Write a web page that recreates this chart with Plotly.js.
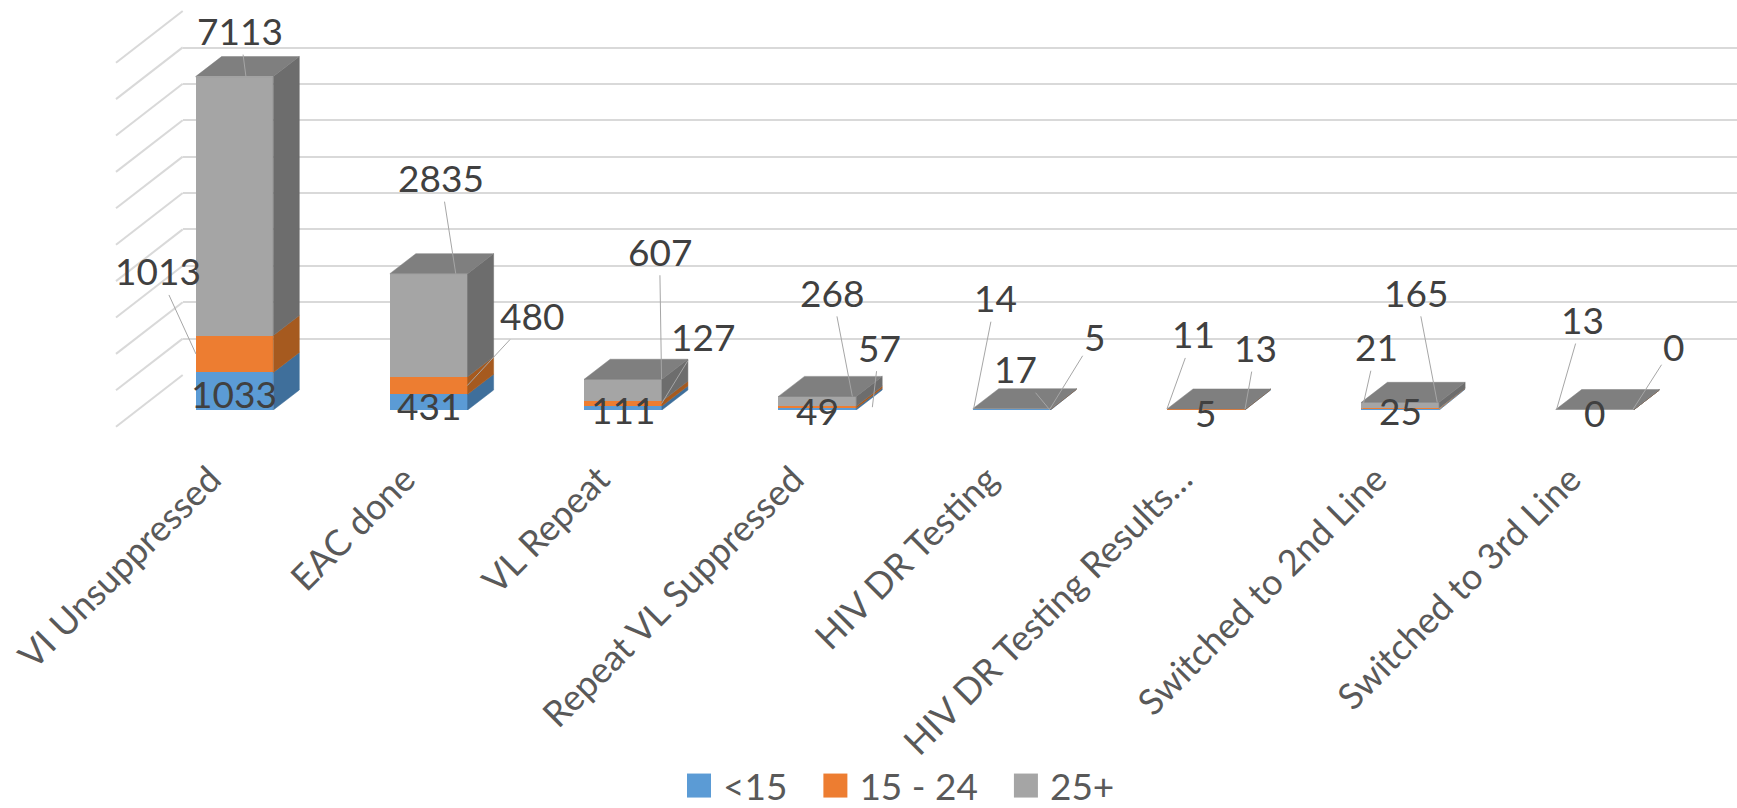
<!DOCTYPE html>
<html>
<head>
<meta charset="utf-8">
<script src="https://cdn.plot.ly/plotly-3.0.1.min.js"></script>
<style>html,body{margin:0;padding:0;background:#ffffff;}</style>
</head>
<body>
<div id="chart" style="width:1737px;height:808px;"></div>
<script>
// ---------------- data ----------------
const categories = ["VI Unsuppressed", "EAC done", "VL Repeat", "Repeat VL Suppressed",
                    "HIV DR Testing", "HIV DR Testing Results…", "Switched to 2nd Line", "Switched to 3rd Line"];
const seriesNames = ["<15", "15 - 24", "25+"];
const under15   = [1033, 431, 111, 49, 17, 5, 25, 0];
const age15to24 = [1013, 480, 127, 57, 5, 13, 21, 0];
const age25plus = [7113, 2835, 607, 268, 14, 11, 165, 13];
const axisMax = 10000;
const axisStep = 1000;

// ---------------- styles / layout geometry ----------------
const W = 1737, H = 808;
const FONT = 'Lato, "Open Sans", "Noto Sans", sans-serif';
const FRONT = {left: 137.3, right: 1691.7, bottom: 410, top: 46};   // front plane of the bars (px)
const BACK_SHIFT = {dx: 45.4, dy: -35};      // back wall relative to bar fronts
const WALL_FRONT_SHIFT = {dx: -21.3, dy: 16.7}; // front edge of the left wall
const BAR_DEPTH = {dx: 26, dy: -20};
const BAR_WIDTH = 0.4;
const frontColors = ["#5B9BD5", "#ED7D31", "#A5A5A5"];
const sideColors  = ["#3F6F9B", "#A65A1F", "#6D6D6D"];
const topColor = "#7F7F7F";
const gridColor = "#D9D9D9";
const LEGEND_ICON = {itemwidth: 57, centre: 43, scale: 2};

// label placement per series (rows) and category (columns):
// [anchor ('mid' of segment | 'top' of stack), anchor dx px from bar centre, text dx px, text dy px, leader line]
const labelPlacement = [
  [["mid",0,0,2,false],["mid",0,0,3,false],["mid",0,0,2,false],["mid",0,0,1,false],
   ["mid",38,-34,-41,true],["mid",0,0,3,false],["mid",0,0,1,false],["mid",0,0,2,false]],
  [["mid",-38.5,-38,-83,true],["mid",38.5,65,-70,true],["mid",38.5,41,-67,true],["mid",55,7,-60,true],
   ["mid",38,45,-73,true],["mid",39,11,-62,true],["mid",-38,14,-62,true],["mid",38,41,-64,true]],
  [["top",11.5,-6,-46,true],["top",27,-15,-96,true],["top",38.5,-2,-128,true],["top",35,-20,-104,true],
   ["top",-38,22,-111,true],["top",-39,27,-75,true],["top",37,-21,-110,true],["top",-38,26,-90,true]]
];

// ---------------- derived ----------------
const series = [under15, age15to24, age25plus];
const nCat = categories.length;
const xIdx = categories.map((_, i) => i);
const catPx = (FRONT.right - FRONT.left) / nCat;
const valPx = (FRONT.bottom - FRONT.top) / axisMax;
const depthX = BAR_DEPTH.dx / catPx;
const depthY = -BAR_DEPTH.dy / valPx;
const px = x => x / W;
const py = y => 1 - y / H;
const baseOf = (k, i) => series.slice(0, k).reduce((s, arr) => s + arr[i], 0);
const totals = xIdx.map(i => baseOf(series.length, i));

const traces = [];
// invisible trace that carries the back-wall subplot (its axes draw the wall gridlines)
traces.push({type: "scatter", mode: "markers", x: [null], y: [null], xaxis: "x", yaxis: "y",
             showlegend: false, hoverinfo: "skip"});
// front faces
series.forEach((vals, k) => {
  traces.push({
    type: "bar", x: xIdx, y: vals, name: seriesNames[k], xaxis: "x2", yaxis: "y2",
    width: BAR_WIDTH, marker: {color: frontColors[k], line: {width: 0}}, hoverinfo: "skip"
  });
});
// side faces
series.forEach((vals, k) => {
  const xs = [], ys = [];
  vals.forEach((v, i) => {
    const y0 = baseOf(k, i), y1 = y0 + v;
    const xr = i + BAR_WIDTH / 2;
    xs.push(xr, xr + depthX, xr + depthX, xr, xr, null);
    ys.push(y0, y0 + depthY, y1 + depthY, y1, y0, null);
  });
  traces.push({
    type: "scatter", mode: "lines", x: xs, y: ys, fill: "toself", fillcolor: sideColors[k],
    line: {width: 0.5, color: sideColors[k]}, xaxis: "x2", yaxis: "y2", showlegend: false, hoverinfo: "skip"
  });
});
// top faces
{
  const xs = [], ys = [];
  totals.forEach((t, i) => {
    const xl = i - BAR_WIDTH / 2, xr = i + BAR_WIDTH / 2;
    xs.push(xl, xr, xr + depthX, xl + depthX, xl, null);
    ys.push(t, t, t + depthY, t + depthY, t, null);
  });
  traces.push({
    type: "scatter", mode: "lines", x: xs, y: ys, fill: "toself", fillcolor: topColor,
    line: {width: 0.5, color: topColor}, xaxis: "x2", yaxis: "y2", showlegend: false, hoverinfo: "skip"
  });
}

// left-wall gridlines (diagonals)
const shapes = [];
for (let v = 0; v <= axisMax; v += axisStep) {
  const yFront = FRONT.bottom - v * valPx;
  const xb = FRONT.left + BACK_SHIFT.dx, yb = yFront + BACK_SHIFT.dy;
  const xf = FRONT.left + WALL_FRONT_SHIFT.dx, yf = yFront + WALL_FRONT_SHIFT.dy;
  shapes.push({type: "line", xref: "paper", yref: "paper", layer: "below",
    x0: px(xb), y0: py(yb), x1: px(xf), y1: py(yf), line: {color: gridColor, width: 2}});
}

// data labels
const annotations = [];
series.forEach((vals, k) => {
  vals.forEach((v, i) => {
    const [anchor, adx, tdx, tdy, arrow] = labelPlacement[k][i];
    const y = anchor === "top" ? totals[i] : baseOf(k, i) + v / 2;
    const a = {
      xref: "x2", yref: "y2", x: i + adx / catPx, y: y, text: String(v),
      font: {family: FONT, size: 37, color: "#404040"}, showarrow: arrow
    };
    if (arrow) {
      Object.assign(a, {ax: tdx, ay: tdy, arrowhead: 0, arrowwidth: 1, arrowcolor: "#A6A6A6", standoff: 0});
    } else {
      Object.assign(a, {xshift: tdx, yshift: -tdy, xanchor: "center", yanchor: "middle"});
    }
    annotations.push(a);
  });
});

const layout = {
  width: W, height: H,
  margin: {l: 0, r: 0, t: 0, b: 0, autoexpand: false},
  paper_bgcolor: "#ffffff", plot_bgcolor: "rgba(0,0,0,0)",
  barmode: "stack",
  showlegend: true,
  legend: {orientation: "h", x: px(656), xanchor: "left", y: py(786), yanchor: "middle",
           itemwidth: LEGEND_ICON.itemwidth, traceorder: "normal",
           font: {family: FONT, size: 37, color: "#595959"}},
  xaxis: {domain: [px(FRONT.left + BACK_SHIFT.dx), 1], range: [-0.5, nCat - 0.5], visible: false, fixedrange: true},
  yaxis: {domain: [py(FRONT.bottom + BACK_SHIFT.dy), py(FRONT.top + BACK_SHIFT.dy)],
          range: [0, axisMax * 1.0005], tick0: 0, dtick: axisStep, showgrid: true, gridcolor: gridColor, gridwidth: 2,
          zeroline: false, showticklabels: false, ticks: "", showline: false, fixedrange: true},
  xaxis2: {domain: [px(FRONT.left), px(FRONT.right)], range: [-0.5, nCat - 0.5], anchor: "y2",
           tickmode: "array", tickvals: xIdx, ticktext: categories, tickangle: -45,
           ticklabelshift: -24, ticklabelstandoff: 40,
           tickfont: {family: FONT, size: 36, color: "#595959"},
           showgrid: false, zeroline: false, showline: false, ticks: "", fixedrange: true},
  yaxis2: {domain: [py(FRONT.bottom), py(FRONT.top)], range: [0, axisMax], anchor: "x2", visible: false, fixedrange: true},
  shapes: shapes,
  annotations: annotations
};

Plotly.newPlot("chart", traces, layout, {displayModeBar: false, staticPlot: true}).then(() => {
  document.querySelectorAll("#chart .legend .traces .legendpoints path").forEach(p => {
    p.setAttribute("transform", "translate(" + LEGEND_ICON.centre + ",0) scale(" + LEGEND_ICON.scale + ")");
  });
});
</script>
</body>
</html>
